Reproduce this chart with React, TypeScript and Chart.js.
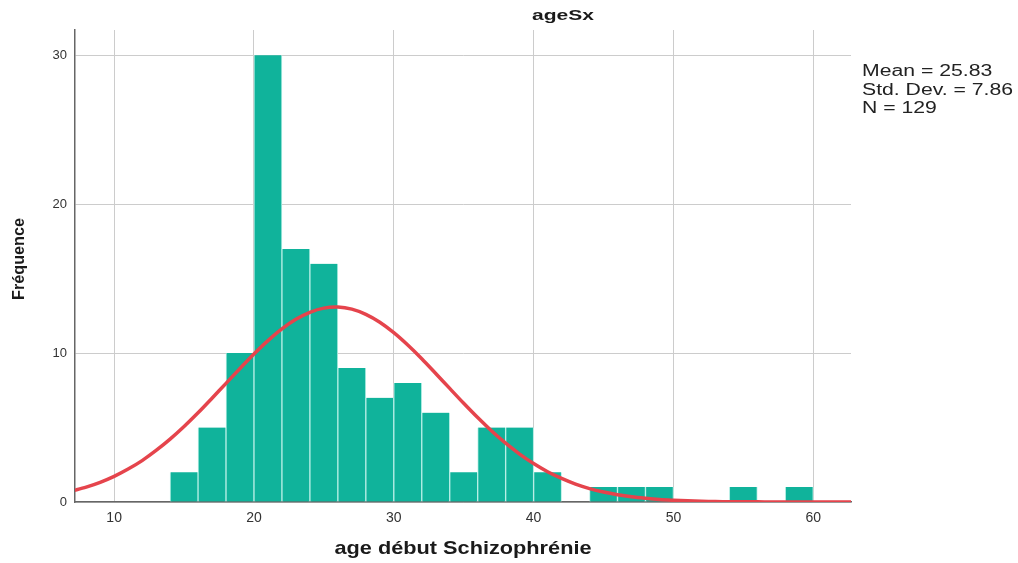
import React, { useEffect, useRef } from "react";
import { Chart, registerables } from "chart.js";

Chart.register(...registerables);

// Histogram bins (lower edge, width 2) and frequencies
const binLower = [14, 16, 18, 20, 22, 24, 26, 28, 30, 32, 34, 36, 38, 40, 44, 46, 48, 54, 58];
const binCounts = [2, 5, 10, 30, 17, 16, 9, 7, 8, 6, 2, 5, 5, 2, 1, 1, 1, 1, 1];
const binWidth = 2;

// Normal curve
const curveX = [7, 8, 9, 10, 11, 12, 13, 14, 15, 16, 17, 18, 19, 20, 21, 22, 23, 24, 25, 26, 27, 28, 29, 30, 31, 32, 33, 34, 35, 36, 37, 38, 39, 40, 41, 42, 43, 44, 45, 46, 47, 48, 49, 50, 51, 52, 53, 54, 55, 56, 57, 58, 59, 60, 61, 62, 63];
const curveY = [0.74, 1.0, 1.32, 1.72, 2.21, 2.78, 3.46, 4.22, 5.07, 5.99, 6.97, 7.97, 8.97, 9.94, 10.84, 11.63, 12.27, 12.74, 13.02, 13.09, 12.95, 12.6, 12.07, 11.37, 10.54, 9.62, 8.63, 7.63, 6.63, 5.67, 4.77, 3.95, 3.22, 2.58, 2.03, 1.58, 1.2, 0.9, 0.67, 0.49, 0.35, 0.25, 0.17, 0.12, 0.08, 0.05, 0.03, 0.02, 0.01, 0.01, 0, 0, 0, 0, 0, 0, 0];

const xTicks = [10, 20, 30, 40, 50, 60];
const yTicks = [0, 10, 20, 30];

const chartTitle = "ageSx";
const xTitle = "age début Schizophrénie";
const yTitle = "Fréquence";
const statsLines = ["Mean = 25.83", "Std. Dev. = 7.86", "N = 129"];

const FONT = "'Liberation Sans', Arial, Helvetica, sans-serif";

function drawStretched(
  ctx: CanvasRenderingContext2D,
  text: string,
  x: number,
  y: number,
  font: string,
  sx: number,
  align: CanvasTextAlign
) {
  ctx.save();
  ctx.font = font;
  ctx.textBaseline = "middle";
  ctx.textAlign = align;
  ctx.translate(x, y);
  ctx.scale(sx, 1);
  ctx.fillText(text, 0, 0);
  ctx.restore();
}

const textPlugin = {
  id: "texts",
  afterDraw(chart: any) {
    const ctx: CanvasRenderingContext2D = chart.ctx;
    ctx.save();
    ctx.fillStyle = "#1a1a1a";
    // title
    let f = `bold 15px ${FONT}`;
    ctx.font = f;
    let w = ctx.measureText(chartTitle).width;
    drawStretched(ctx, chartTitle, 563, 16, f, 62 / w, "center");
    // x title
    f = `bold 19px ${FONT}`;
    ctx.font = f;
    w = ctx.measureText(xTitle).width;
    drawStretched(ctx, xTitle, 463, 549, f, 257 / w, "center");
    // y title
    f = `bold 16px ${FONT}`;
    ctx.font = f;
    w = ctx.measureText(yTitle).width;
    ctx.save();
    ctx.translate(20, 259);
    ctx.rotate(-Math.PI / 2);
    drawStretched(ctx, yTitle, 0, 0, f, 82 / w, "center");
    ctx.restore();
    // stats
    f = `16px ${FONT}`;
    ctx.font = f;
    w = ctx.measureText(statsLines[1]).width;
    const s = 151 / w;
    ctx.fillStyle = "#222";
    statsLines.forEach((line, i) => {
      drawStretched(ctx, line, 862, 72 + i * 18.3, f, s, "left");
    });
    ctx.restore();
  },
};

export default function App() {
  const ref = useRef<HTMLCanvasElement | null>(null);
  useEffect(() => {
    document.body.style.margin = "0";
    const canvas = ref.current;
    if (!canvas) return;
    const chart = new Chart(canvas, {
      type: "bar",
      data: {
        datasets: [
          {
            type: "line",
            data: curveX.map((x, i) => ({ x, y: curveY[i] })),
            borderColor: "#e5444c",
            borderWidth: 3.5,
            pointRadius: 0,
            tension: 0.3,
            fill: false,
            order: 0,
          } as any,
          {
            type: "bar",
            data: binLower.map((lo, i) => ({ x: lo + binWidth / 2, y: binCounts[i] })),
            backgroundColor: "#10b39b",
            borderColor: "#b8efe6",
            borderWidth: { left: 1, right: 1, top: 0, bottom: 0 },
            borderSkipped: false,
            categoryPercentage: 1,
            barPercentage: 1,
            order: 1,
          } as any,
        ],
      },
      options: {
        animation: false,
        responsive: false,
        maintainAspectRatio: false,
        layout: { padding: { left: 0, right: 167, top: 30, bottom: 0 } },
        plugins: {
          legend: { display: false },
          tooltip: { enabled: false },
          title: { display: false },
        },
        scales: {
          x: {
            type: "linear",
            min: 7.2,
            max: 62.7,
            offset: false,
            afterBuildTicks: (s: any) => {
              s.ticks = xTicks.map((v) => ({ value: v }));
            },
            afterFit: (s: any) => {
              s.height = 61;
            },
            grid: { color: "#cccccc", lineWidth: 1, drawTicks: false, offset: false },
            border: { display: true, color: "#666666", width: 1.5 },
            ticks: {
              font: { family: FONT, size: 14 },
              color: "#333333",
              padding: 8,
              maxRotation: 0,
              autoSkip: false,
            },
          },
          y: {
            type: "linear",
            min: 0,
            max: 31.7,
            afterBuildTicks: (s: any) => {
              s.ticks = yTicks.map((v) => ({ value: v }));
            },
            afterFit: (s: any) => {
              s.width = 75;
            },
            grid: { color: "#cccccc", lineWidth: 1, drawTicks: false },
            border: { display: true, color: "#666666", width: 1.5 },
            ticks: {
              font: { family: FONT, size: 13 },
              color: "#333333",
              padding: 8,
              autoSkip: false,
            },
          },
        },
      },
      plugins: [textPlugin],
    });
    return () => chart.destroy();
  }, []);
  return (
    <div style={{ width: 1018, height: 563, background: "#fff" }}>
      <canvas ref={ref} width={1018} height={563} style={{ display: "block" }} />
    </div>
  );
}
